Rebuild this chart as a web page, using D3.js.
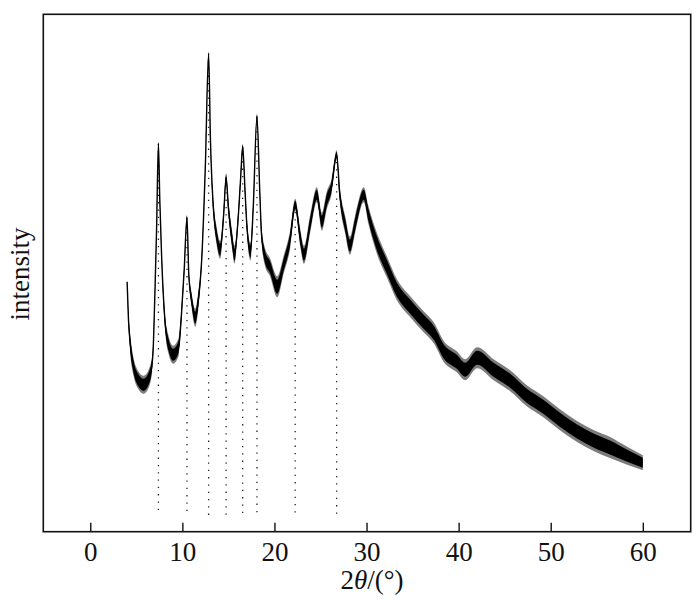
<!DOCTYPE html>
<html>
<head>
<meta charset="utf-8">
<title>XRD pattern</title>
<script src="https://cdn.jsdelivr.net/npm/d3@7"></script>
<style>
  html, body { margin: 0; background: #fff; }
  .frame { fill: none; stroke: #111; stroke-width: 1.6px; }
  .axis text { font-family: "Liberation Serif", "Times New Roman", serif; font-size: 27px; fill: #111; }
  .axis line { stroke: #111; stroke-width: 1.4px; }
  .axis path { display: none; }
  .label { font-family: "Liberation Serif", "Times New Roman", serif; font-size: 27px; fill: #111; }
  .band-outer { fill: #111; fill-opacity: 0.55; stroke: none; }
  .band { fill: #000; stroke: none; }
  .trace { fill: none; stroke: #000; stroke-width: 1.4px; }
  .peak { stroke: #222; stroke-width: 1.3px; stroke-dasharray: 1.3,6; }
</style>
</head>
<body>
<div id="chart"></div>
<script>
var width = 700,
    height = 600;

// 2theta (deg), intensity (a.u.), and half-width of the noise band
var angle = [4.0, 4.15, 4.3, 4.7, 5.2, 5.8, 6.5, 6.8, 7.0, 7.2, 7.4, 7.55, 7.75,
             8.1, 8.5, 9.0, 9.6, 9.9, 10.2, 10.5, 10.7, 11.0, 11.4, 11.7, 12.1,
             12.5, 12.85, 13.05, 13.4, 13.7, 14.1, 14.5, 14.75, 15.0, 15.4, 15.65,
             16.1, 16.35, 16.55, 16.8, 17.0, 17.4, 17.7, 18.1, 18.4, 18.6, 19.0,
             19.5, 20.3, 21.0, 21.7, 22.25, 22.8, 23.2, 23.9, 24.6, 25.15, 25.7,
             26.2, 26.75, 27.1, 27.7, 28.2, 28.8, 29.7, 30.2, 31.1, 32.2, 33.3,
             34.75, 36.2, 37.3, 38.4, 39.8, 40.7, 42.0, 43.8, 45.6, 47.4, 49.2,
             51.0, 52.9, 54.7, 56.5, 58.3, 60.0];
var intensity = [250, 212, 192, 165, 152, 147, 157, 177, 232, 302, 388, 332, 275,
                 212, 187, 177, 185, 217, 262, 314, 257, 232, 214, 229, 272,
                 367, 478, 392, 320, 297, 282, 319, 354, 324, 292, 277,
                 319, 357, 385, 342, 307, 280, 325, 415, 342, 297, 274,
                 265, 245, 267, 292, 327, 294, 277, 309, 337, 310, 332,
                 345, 377, 337, 306, 286, 309, 337, 317, 289, 265, 242,
                 225, 210, 199, 180, 170, 162, 174, 162, 151, 136, 125,
                 112, 100, 91, 84, 76, 69];
var noise = [1, 4, 6, 6, 6, 6, 6, 4, 2, 2, 1.5, 2, 3,
             5, 6, 6, 6, 4, 3, 2, 3, 5, 6, 6, 3,
             2, 1.5, 2, 5, 6, 6, 4, 3, 5, 6, 6,
             4, 3, 2, 3, 5, 6, 3, 2, 3, 5, 6,
             6, 7, 6, 6, 4, 6, 6, 6, 5, 6, 6,
             5, 3, 5, 6, 6, 6, 5, 6, 7, 7, 7,
             7, 7, 7, 7, 7, 7, 7, 7, 7, 7, 7,
             7, 7, 7, 7, 6, 5];

var peakAngle = [7.4, 10.5, 12.85, 14.75, 16.55, 18.1, 22.25, 26.75];
var xTicks = [0, 10, 20, 30, 40, 50, 60];

var svg = d3.select("#chart").append("svg")
            .attr("width", width)
            .attr("height", height);

var plotL = 43.3, plotR = 690.7, plotT = 14.3, plotB = 531.7;

var x = d3.scaleLinear().domain([-5.1, 65.2]).range([plotL, plotR]);
var y = d3.scaleLinear().domain([0, 517.4]).range([plotB, plotT]);

var pts = angle.map(function(a, i) {
  return {a: a, v: intensity[i], n: noise[i]};
});

// dotted guides under each labelled peak
svg.append("g").selectAll("line")
   .data(peakAngle)
   .enter().append("line")
   .attr("class", "peak")
   .attr("x1", function(d) { return x(d); })
   .attr("x2", function(d) { return x(d); })
   .attr("y1", function(d) {
     var p = pts.reduce(function(b, c) {
       return Math.abs(c.a - d) < Math.abs(b.a - d) ? c : b;
     });
     return y(p.v);
   })
   .attr("y2", y(16));

var outer = d3.area()
              .x(function(d) { return x(d.a); })
              .y0(function(d) { return y(d.v - d.n * 1.5); })
              .y1(function(d) { return y(d.v + d.n * 1.5); })
              .curve(d3.curveMonotoneX);

var band = d3.area()
             .x(function(d) { return x(d.a); })
             .y0(function(d) { return y(d.v - d.n); })
             .y1(function(d) { return y(d.v + d.n); })
             .curve(d3.curveMonotoneX);

var line = d3.line()
             .x(function(d) { return x(d.a); })
             .y(function(d) { return y(d.v); })
             .curve(d3.curveMonotoneX);

svg.append("path").datum(pts).attr("class", "band-outer").attr("d", outer);
svg.append("path").datum(pts).attr("class", "band").attr("d", band);
svg.append("path").datum(pts).attr("class", "trace").attr("d", line);

// x axis, ticks pointing inward
var xAxis = d3.axisBottom(x)
              .tickValues(xTicks)
              .tickSizeInner(-9)
              .tickSizeOuter(0)
              .tickFormat(d3.format("d"));

var gx = svg.append("g")
            .attr("class", "axis")
            .attr("transform", "translate(0," + plotB + ")")
            .call(xAxis);
gx.selectAll("text").attr("y", 29).attr("dy", 0);

svg.append("rect")
   .attr("class", "frame")
   .attr("x", plotL)
   .attr("y", plotT)
   .attr("width", plotR - plotL)
   .attr("height", plotB - plotT);

var xl = svg.append("text")
            .attr("class", "label")
            .attr("x", (plotL + plotR) / 2 + 5)
            .attr("y", 589)
            .attr("text-anchor", "middle");
xl.append("tspan").text("2");
xl.append("tspan").attr("font-style", "italic").text("θ");
xl.append("tspan").text("/(°)");

svg.append("text")
   .attr("class", "label")
   .attr("transform", "translate(29," + 274 + ") rotate(-90)")
   .attr("text-anchor", "middle")
   .text("intensity");
</script>
</body>
</html>
